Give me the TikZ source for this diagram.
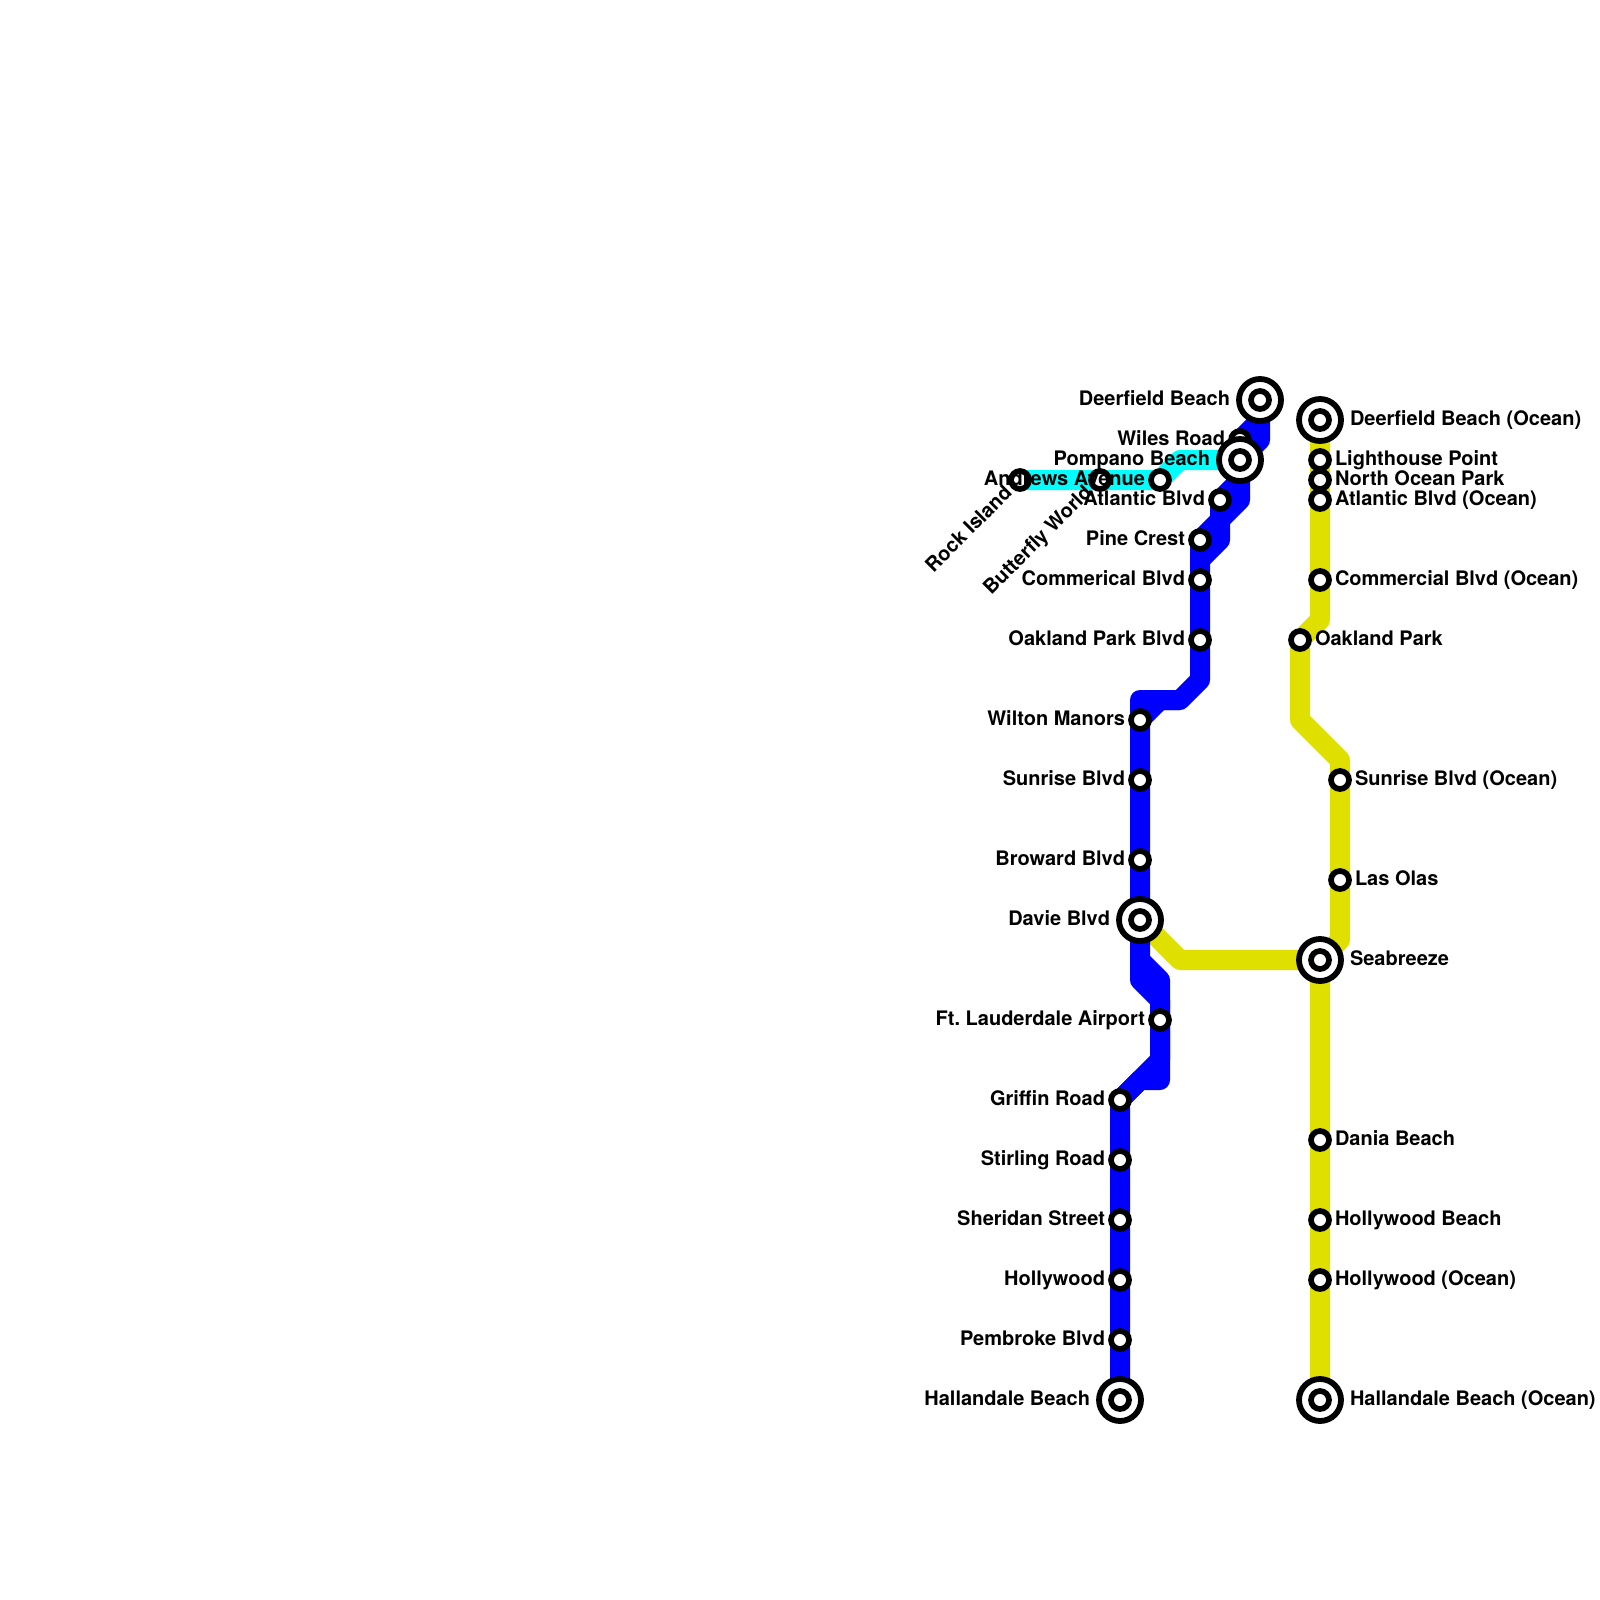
\documentclass[tikz,border=0pt]{standalone}
\usepackage{fontspec}
\setmainfont{TeX Gyre Heros}
\usetikzlibrary{backgrounds}
\definecolor{lineblue}{RGB}{0,0,255}
\definecolor{linecyan}{RGB}{0,255,255}
\definecolor{lineyellow}{RGB}{224,224,0}
\tikzset{
  route/.style={line width=10pt,line join=round,line cap=butt},
  blueroute/.style={route,draw=lineblue},
  cyanroute/.style={route,draw=linecyan},
  yellowroute/.style={route,draw=lineyellow},
  halt/.style={circle,draw=black,fill=white,line width=2.85pt,inner sep=0pt,minimum size=9pt,outer sep=0pt},
  hub/.style={circle,draw=black,fill=white,line width=2.9pt,inner sep=0pt,minimum size=21pt,outer sep=0pt},
  knee/.style={inner sep=0pt,minimum size=0pt,outer sep=0pt},
  lblbase/.style={font=\fontsize{10}{12}\selectfont\bfseries\frenchspacing,text=black,inner sep=0pt,outer sep=0pt},
  lblL/.style={lblbase,anchor=base east},
  lblR/.style={lblbase,anchor=base west},
  lblD/.style={lblbase,anchor=base east,rotate=45}
}
\begin{document}
\begin{tikzpicture}[x=0.5pt,y=-0.5pt]
\useasboundingbox (0,0) rectangle (1600,1600);
% bends
\foreach \n/\px/\py in {
 b1/1140/1080,b2/1160/1080,b3/1160/980,b4/1140/960,b5/1140/700,b6/1180/700,b7/1200/680,
 b8/1200/540,b9/1220/520,b10/1240/480,b11/1240/440,b12/1260/420,
 b13/1160/1060,b14/1160/1000,b15/1140/980,b16/1160/700,b17/1200/560,b18/1220/540,
 b19/1240/500,b20/1240/460,b21/1260/440,
 y1/1320/620,y2/1300/720,y3/1340/760,y4/1340/940,y5/1180/960,
 c1/1180/460}
  {\node[knee] (\n) at (\px,\py) {};}
% small stations
\foreach \n/\px/\py in {
 griffin/1120/1100,stirling/1120/1160,sheridan/1120/1220,hollywood/1120/1280,pembroke/1120/1340,
 airport/1160/1020,broward/1140/860,sunrise/1140/780,wilton/1140/720,
 oakland/1200/640,commerical/1200/580,pine/1200/540,atlantic/1220/500,wiles/1240/440,
 rock/1020/480,butterfly/1100/480,andrews/1160/480,
 lighthouse/1320/460,northocean/1320/480,atlanticO/1320/500,commercialO/1320/580,
 oaklandO/1300/640,sunriseO/1340/780,lasolas/1340/880,
 dania/1320/1140,hollywoodB/1320/1220,hollywoodO/1320/1280}
  {\node[halt] (\n) at (\px,\py) {};}
% interchange stations
\foreach \n/\px/\py in {
 deerfield/1260/400,pompano/1240/460,davie/1140/920,hallandale/1120/1400,
 deerfieldO/1320/420,seabreeze/1320/960,hallandaleO/1320/1400}
  {\node[hub] (\n) at (\px,\py) {};
   \node[halt] (\n-in) at (\px,\py) {};}
\begin{pgfonlayer}{background}
 \draw[yellowroute] (deerfieldO.center) -- (y1.center) -- (oaklandO.center) -- (y2.center) -- (y3.center) -- (y4.center) -- (seabreeze.center) -- (hallandaleO.center);
 \draw[yellowroute] (davie.center) -- (y5.center) -- (seabreeze.center);
 \draw[cyanroute] (rock.center) -- (andrews.center) -- (c1.center) -- (pompano.center);
 \draw[blueroute] (hallandale.center) -- (griffin.center) -- (b1.center) -- (b2.center) -- (b3.center) -- (b4.center) -- (b5.center) -- (b6.center) -- (b7.center) -- (b8.center) -- (b9.center) -- (atlantic.center) -- (b10.center) -- (b11.center) -- (b12.center) -- (deerfield.center);
 \draw[blueroute] (griffin.center) -- (b13.center) -- (b14.center) -- (b15.center) -- (b4.center);
 \draw[blueroute] (wilton.center) -- (b16.center) -- (b6.center);
 \draw[blueroute] (b17.center) -- (b18.center) -- (b9.center) -- (b19.center) -- (b10.center);
 \draw[blueroute] (b20.center) -- (b21.center) -- (b12.center);
\end{pgfonlayer}
% labels, left side
\node[lblL] (t-deerfield) at ([shift={(-30,5)}]deerfield.center) {Deerfield Beach};
\node[lblL] (t-wiles) at ([shift={(-15,5)}]wiles.center) {Wiles Road};
\node[lblL] (t-pompano) at ([shift={(-30,5)}]pompano.center) {Pompano Beach};
\node[lblL] (t-andrews) at ([shift={(-15,5)}]andrews.center) {Andrews Avenue};
\node[lblL] (t-atlantic) at ([shift={(-15,5)}]atlantic.center) {Atlantic Blvd};
\node[lblL] (t-pine) at ([shift={(-15,5)}]pine.center) {Pine Crest};
\node[lblL] (t-commerical) at ([shift={(-15,5)}]commerical.center) {Commerical Blvd};
\node[lblL] (t-oakland) at ([shift={(-15,5)}]oakland.center) {Oakland Park Blvd};
\node[lblL] (t-wilton) at ([shift={(-15,5)}]wilton.center) {Wilton Manors};
\node[lblL] (t-sunrise) at ([shift={(-15,5)}]sunrise.center) {Sunrise Blvd};
\node[lblL] (t-broward) at ([shift={(-15,5)}]broward.center) {Broward Blvd};
\node[lblL] (t-davie) at ([shift={(-30,5)}]davie.center) {Davie Blvd};
\node[lblL] (t-airport) at ([shift={(-15,5)}]airport.center) {Ft. Lauderdale Airport};
\node[lblL] (t-griffin) at ([shift={(-15,5)}]griffin.center) {Griffin Road};
\node[lblL] (t-stirling) at ([shift={(-15,5)}]stirling.center) {Stirling Road};
\node[lblL] (t-sheridan) at ([shift={(-15,5)}]sheridan.center) {Sheridan Street};
\node[lblL] (t-hollywood) at ([shift={(-15,5)}]hollywood.center) {Hollywood};
\node[lblL] (t-pembroke) at ([shift={(-15,5)}]pembroke.center) {Pembroke Blvd};
\node[lblL] (t-hallandale) at ([shift={(-30,5)}]hallandale.center) {Hallandale Beach};
% labels, diagonal
\node[lblD] (t-rock) at ([shift={(-7,14)}]rock.center) {Rock Island};
\node[lblD] (t-butterfly) at ([shift={(-7,14)}]butterfly.center) {Butterfly World};
% labels, right side
\node[lblR] (t-deerfieldO) at ([shift={(30,5)}]deerfieldO.center) {Deerfield Beach (Ocean)};
\node[lblR] (t-lighthouse) at ([shift={(15,5)}]lighthouse.center) {Lighthouse Point};
\node[lblR] (t-northocean) at ([shift={(15,5)}]northocean.center) {North Ocean Park};
\node[lblR] (t-atlanticO) at ([shift={(15,5)}]atlanticO.center) {Atlantic Blvd (Ocean)};
\node[lblR] (t-commercialO) at ([shift={(15,5)}]commercialO.center) {Commercial Blvd (Ocean)};
\node[lblR] (t-oaklandO) at ([shift={(15,5)}]oaklandO.center) {Oakland Park};
\node[lblR] (t-sunriseO) at ([shift={(15,5)}]sunriseO.center) {Sunrise Blvd (Ocean)};
\node[lblR] (t-lasolas) at ([shift={(15,5)}]lasolas.center) {Las Olas};
\node[lblR] (t-seabreeze) at ([shift={(30,5)}]seabreeze.center) {Seabreeze};
\node[lblR] (t-dania) at ([shift={(15,5)}]dania.center) {Dania Beach};
\node[lblR] (t-hollywoodB) at ([shift={(15,5)}]hollywoodB.center) {Hollywood Beach};
\node[lblR] (t-hollywoodO) at ([shift={(15,5)}]hollywoodO.center) {Hollywood (Ocean)};
\node[lblR] (t-hallandaleO) at ([shift={(30,5)}]hallandaleO.center) {Hallandale Beach (Ocean)};
\end{tikzpicture}
\end{document}
